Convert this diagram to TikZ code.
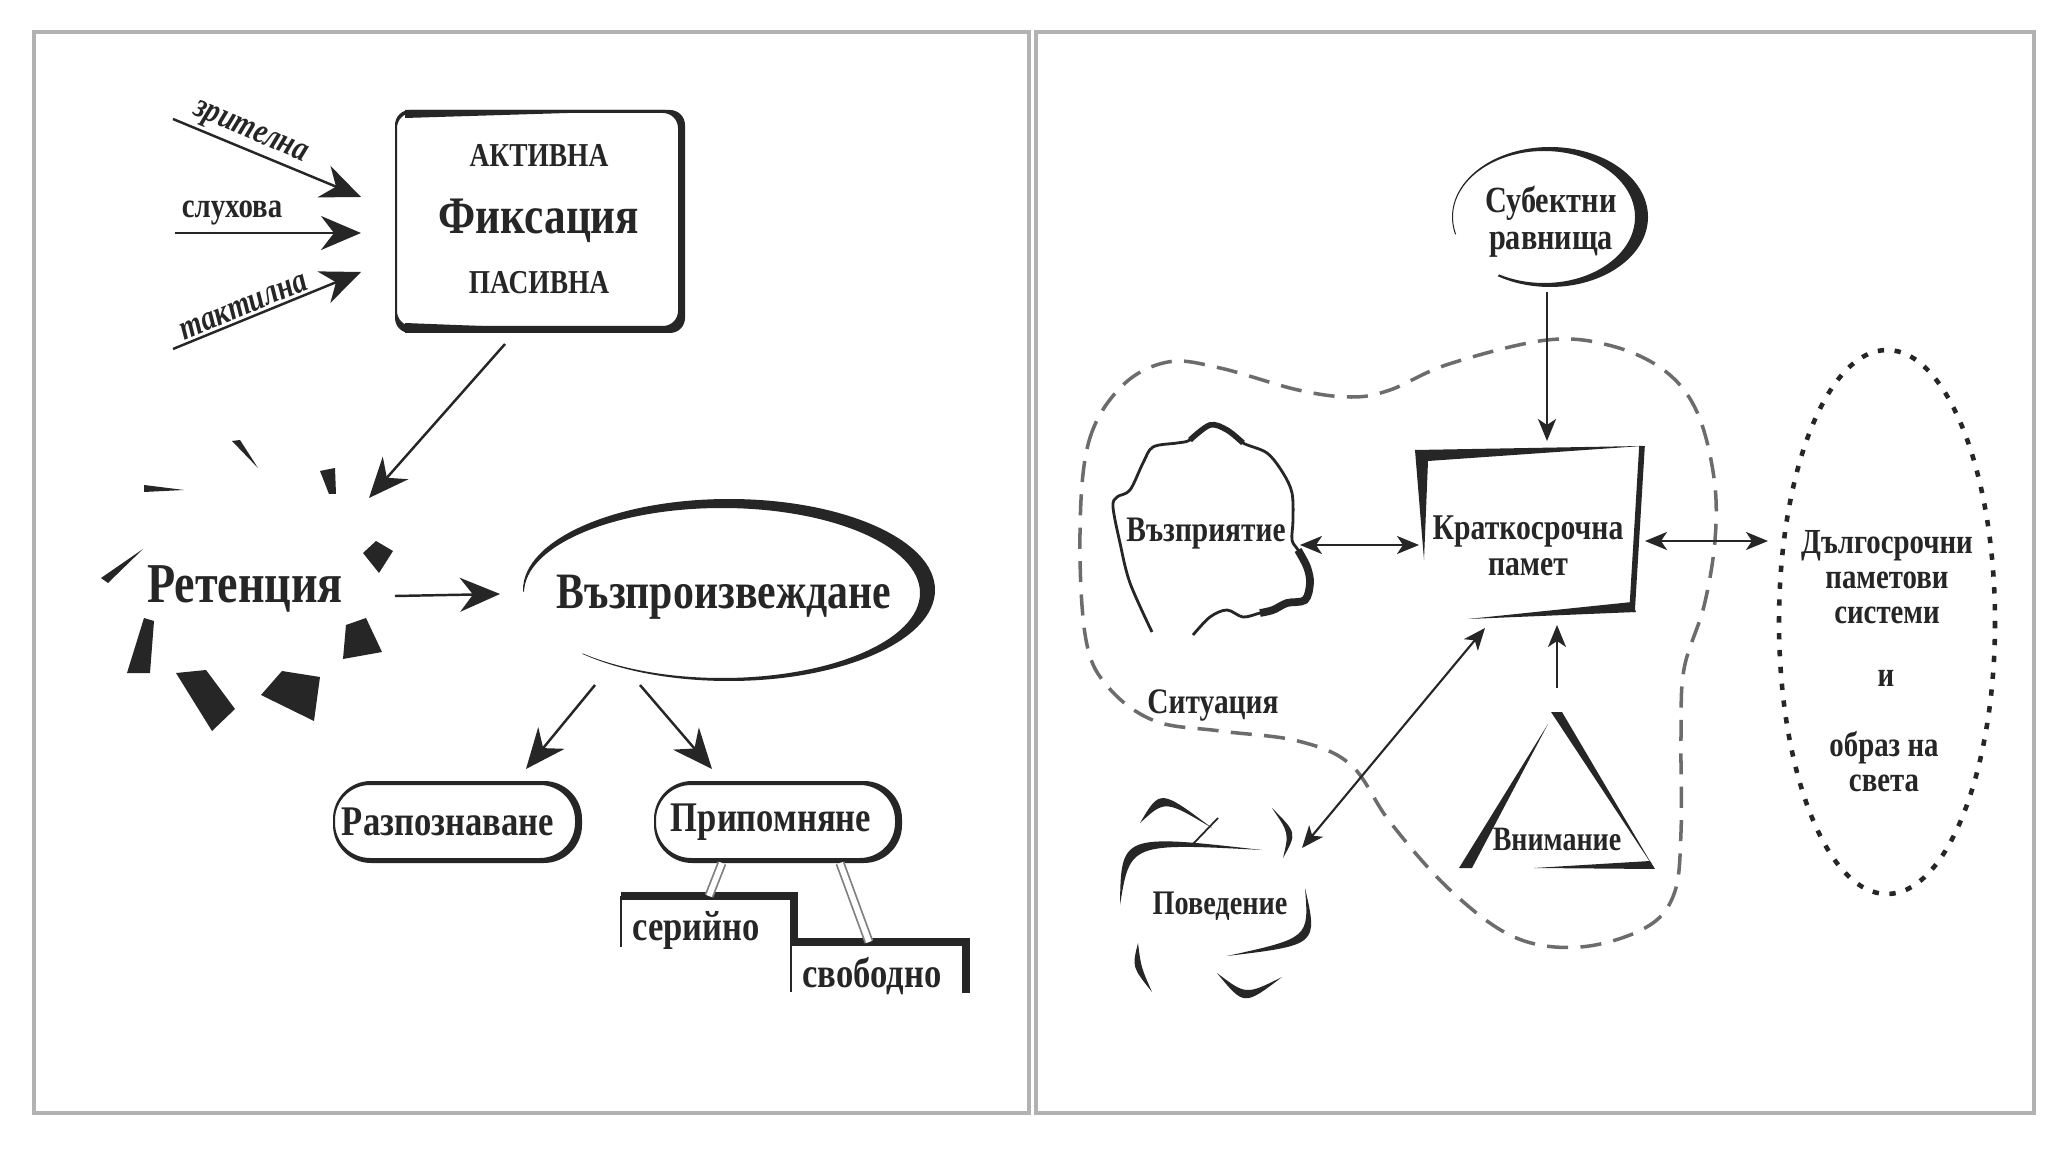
\documentclass[tikz,border=0pt]{standalone}
\usepackage{fontspec}
\setmainfont{Liberation Serif}[FakeStretch=0.82]
\usetikzlibrary{arrows.meta}
\definecolor{ink}{HTML}{262626}

% a tapered stroke: two quadratic curves between the same end points
\newcommand\swoosh[4]{\fill[ink] #1 .. controls #2 .. #4 .. controls #3 .. #1 -- cycle;}

\begin{document}
\begin{tikzpicture}[x=0.01cm, y=-0.01cm,
    panel/.style={draw=gray!60, line width=0.9pt},
    txt/.style={text=ink, inner sep=1pt, align=center, font=\bfseries\fontsize{#1}{#1}\selectfont},
    slant/.style={font=\bfseries\itshape\fontsize{10}{10}\selectfont},
    fatarrow/.style={draw=ink, line width=0.7pt, -{Stealth[length=0.4cm, width=0.34cm, inset=0.13cm]}},
    slimarrow/.style={draw=ink, line width=0.6pt, -{Stealth[length=0.22cm, width=0.18cm, inset=0.06cm]}},
    twoway/.style={draw=ink, line width=0.6pt, {Stealth[length=0.22cm, width=0.18cm, inset=0.06cm]}-{Stealth[length=0.22cm, width=0.18cm, inset=0.06cm]}},
    shard/.style={fill=ink},
    situation/.style={draw=gray!85!black, line width=1pt, dash pattern=on 6pt off 3.5pt},
  ]
  \useasboundingbox (0,0) rectangle (2048,1152);
  \fill[white] (0,0) rectangle (2048,1152);

  \draw[panel] (34,32) rectangle (1029,1113);
  \draw[panel] (1036,32) rectangle (2034,1113);

  %% left panel
  % fixation box
  \fill[ink, even odd rule, rounded corners=0.15cm] (395,110) rectangle (685,333) (397,113) rectangle (678,326);
  \fill[ink] (405,110) -- (665,110) -- (405,118) -- cycle;
  \fill[ink] (405,333) -- (660,333) -- (405,323) -- cycle;
  \node[txt=9.5] (akt) at (539,156) {АКТИВНА};
  \node[txt=15] (fix) at (539,221) {Фиксация};
  \node[txt=9.5] (pas) at (539,283) {ПАСИВНА};

  % the three inputs
  \coordinate (zr-s) at (173,119);
  \coordinate (zr-e) at (361,197);
  \coordinate (sl-s) at (175,233);
  \coordinate (sl-e) at (361,233);
  \coordinate (ta-s) at (173,349);
  \coordinate (ta-e) at (361,272);
  \draw[fatarrow] (zr-s) -- (zr-e);
  \draw[fatarrow] (sl-s) -- (sl-e);
  \draw[fatarrow] (ta-s) -- (ta-e);
  \node[txt=10, slant, inner sep=0pt, rotate=-23] (zr) at (250,134) {зрителна};
  \node[txt=10, inner sep=0pt] (sl) at (232,213) {слухова};
  \node[txt=10, slant, inner sep=0pt, rotate=22.5] (ta) at (244,307) {тактилна};

  % retention and its shards
  \node[txt=16] (ret) at (245,589) {Ретенция};
  \fill[shard] (232,441) -- (240,440) -- (258,468) -- cycle;
  \fill[shard] (144,485) -- (144,492) -- (184,490) -- cycle;
  \fill[shard] (320,471) -- (335,468) -- (336,494) -- (329,494) -- cycle;
  \fill[shard] (363,553) -- (376,541) -- (393,551) -- (379,573) -- cycle;
  \fill[shard] (143,549) -- (101,578) -- (108,583) -- cycle;
  \fill[shard] (144,618) -- (154,621) -- (150,673) -- (127,673) -- cycle;
  \fill[shard] (176,673) -- (206,670) -- (235,709) -- (212,731) -- cycle;
  \fill[shard] (261,695) -- (282,671) -- (320,677) -- (314,721) -- cycle;
  \fill[shard] (346,625) -- (366,618) -- (382,652) -- (343,659) -- cycle;

  \coordinate (fix-out) at (505,344);
  \coordinate (ret-in) at (369,498);
  \draw[fatarrow] (fix-out) -- (ret-in);

  % reproduction
  \begin{scope}
    \clip (729,590) -- (470,592) -- (470,440) -- (990,440) -- (990,730) -- (407,730) -- cycle;
    \fill[ink, even odd rule] (729,590) ellipse [x radius=206, y radius=91] (722,593) ellipse [x radius=198, y radius=85];
  \end{scope}
  \node[txt=14.5] (vaz) at (724,597) {Възпроизвеждане};
  \coordinate (ret-out) at (395,596);
  \coordinate (vaz-in) at (500,594);
  \draw[fatarrow] (ret-out) -- (vaz-in);

  % recognition and recall
  \fill[ink, even odd rule, rounded corners=0.38cm] (333,781) rectangle (582,863) [rounded corners=0.35cm] (335,785) rectangle (575,858);
  \fill[ink, even odd rule, rounded corners=0.38cm] (654,781) rectangle (902,863) [rounded corners=0.35cm] (656,785) rectangle (895,858);
  \node[txt=12] (raz) at (448,822) {Разпознаване};
  \node[txt=12] (pri) at (771,822) {Припомняне};
  \coordinate (vaz-l) at (595,685);
  \coordinate (raz-in) at (526,769);
  \coordinate (vaz-r) at (640,685);
  \coordinate (pri-in) at (712,769);
  \draw[fatarrow] (vaz-l) -- (raz-in);
  \draw[fatarrow] (vaz-r) -- (pri-in);

  % serial and free steps
  \draw[ink, line width=2.2pt, miter limit=10] (621,896) -- (794,896) -- (794,942) -- (966,942) -- (966,993);
  \draw[ink, line width=0.6pt] (621,896) -- (621,947);
  \draw[ink, line width=0.6pt] (791,946) -- (791,992);
  \node[txt=12] (ser) at (696,930) {серийно};
  \node[txt=12] (svo) at (872,976) {свободно};
  \coordinate (pri-a) at (722,863);
  \coordinate (ser-in) at (709,896);
  \coordinate (pri-b) at (840,863);
  \coordinate (svo-in) at (869,942);
  \draw[gray, line width=0.5pt, double=white, double distance=1.6pt] (pri-a) -- (ser-in);
  \draw[gray, line width=0.5pt, double=white, double distance=1.6pt] (pri-b) -- (svo-in);

  %% right panel
  % subject levels
  \begin{scope}
    \clip (1550,217) -- (1403,244) -- (1403,120) -- (1700,120) -- (1700,320) -- (1459,320) -- cycle;
    \fill[ink, even odd rule] (1550,217) ellipse [x radius=98, y radius=70] (1544,217) ellipse [x radius=91, y radius=66];
  \end{scope}
  \node[txt=10.5] (sub) at (1551,222) {Субектни\\равнища};

  % situation
  \draw[situation] plot[smooth cycle, tension=0.6] coordinates {
    (1080,533) (1089,441) (1122,386) (1168,362) (1220,368) (1298,390) (1351,397)
    (1390,390) (1449,364) (1547,340) (1612,346) (1665,371) (1697,412) (1714,478)
    (1715,540) (1704,606) (1684,669) (1681,736) (1681,832) (1674,894) (1645,928)
    (1580,947) (1514,937) (1449,889) (1390,822) (1351,765) (1298,741) (1220,731)
    (1155,721) (1109,688) (1086,640)};
  \node[txt=10.2] (sit) at (1213,705) {Ситуация};

  % long-term systems
  \draw[ink, line width=1.3pt, dash pattern=on 1.8pt off 3pt] (1887,622) ellipse [x radius=108, y radius=272];
  \node[txt=10] (dg) at (1887,577) {Дългосрочни\\паметови\\системи};
  \node[txt=10] (dg-i) at (1886,678) {и};
  \node[txt=10] (dg-o) at (1884,762) {образ на\\света};

  % perception
  \draw[ink, line width=0.8pt] plot[smooth, tension=0.55] coordinates {
    (1152,632) (1130,583) (1120,543) (1113,507) (1117,497) (1130,490) (1143,463)
    (1153,447) (1177,443) (1190,440) (1210,425) (1227,430) (1243,443) (1267,453)
    (1283,473) (1292,493) (1293,520) (1292,540) (1298,550) (1307,567) (1310,583)
    (1305,600) (1287,603) (1273,610) (1260,613) (1243,617) (1227,610) (1210,617)
    (1193,635)};
  \draw[ink, line width=1.6pt] plot[smooth, tension=0.55] coordinates {
    (1190,440) (1210,425) (1227,430) (1243,443)};
  \draw[ink, line width=2.2pt] plot[smooth, tension=0.55] coordinates {
    (1298,550) (1307,567) (1310,583) (1305,600) (1287,603) (1273,610) (1260,613)};
  \node[txt=10.2] (vp) at (1206,534) {Възприятие};

  % short-term memory
  \fill[ink] (1415,450) -- (1642,446) -- (1428,461) -- (1424,560) -- cycle;
  \draw[ink, line width=1.6pt] (1642,446) -- (1632,612);
  \fill[ink] (1636,612) -- (1468,619) -- (1632,602) -- cycle;
  \node[txt=10.3] (kr) at (1528,546) {Краткосрочна\\памет};

  % attention
  \fill[ink] (1459,868) -- (1548,724) -- (1472,868) -- cycle;
  \fill[ink] (1551,712) -- (1562,712) -- (1654,868) -- cycle;
  \fill[ink] (1534,868) -- (1655,869) -- (1650,861) -- cycle;
  \node[txt=9.7] (vn) at (1557,839) {Внимание};

  % behaviour
  \swoosh{(1140,823)}{(1160,789)}{(1165,800)}{(1212,828)}
  \draw[ink, line width=0.5pt] (1192,845) -- (1218,818);
  \swoosh{(1120,905)}{(1121,834)}{(1130,843)}{(1262,850)}
  \swoosh{(1272,808)}{(1297,833)}{(1289,833)}{(1283,858)}
  \swoosh{(1305,888)}{(1318,945)}{(1309,938)}{(1227,956)}
  \swoosh{(1138,943)}{(1132,967)}{(1141,967)}{(1152,992)}
  \swoosh{(1217,973)}{(1244,1006)}{(1246,995)}{(1282,977)}
  \node[txt=9.8] (pov) at (1220,906) {Поведение};

  % connectors
  \coordinate (sub-out) at (1547,292);
  \coordinate (kr-top) at (1547,441);
  \coordinate (vp-r) at (1300,545);
  \coordinate (kr-l) at (1419,545);
  \coordinate (kr-r) at (1645,541);
  \coordinate (dg-l) at (1768,541);
  \coordinate (pov-r) at (1302,848);
  \coordinate (kr-bl) at (1485,628);
  \coordinate (vn-top) at (1557,688);
  \coordinate (kr-b) at (1557,625);
  \draw[slimarrow] (sub-out) -- (kr-top);
  \draw[twoway] (vp-r) -- (kr-l);
  \draw[twoway] (kr-r) -- (dg-l);
  \draw[twoway] (pov-r) -- (kr-bl);
  \draw[slimarrow] (vn-top) -- (kr-b);
\end{tikzpicture}
\end{document}
